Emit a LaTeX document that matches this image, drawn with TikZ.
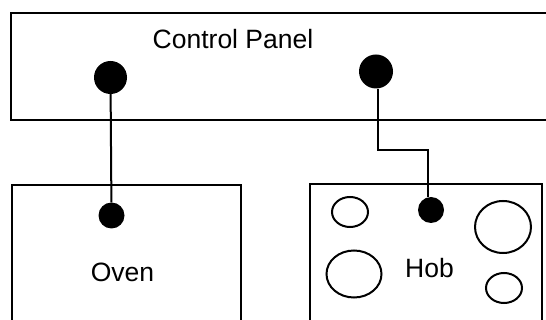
\documentclass[tikz,border=0pt]{standalone}
\usepackage{fontspec}
\setmainfont{Liberation Sans}
\usetikzlibrary{shapes.geometric}
\begin{document}
\begin{tikzpicture}[x=1pt,y=-1pt,
  box/.style={line width=2.1pt},
  wire/.style={line width=2pt},
  dot/.style={circle,fill=black,draw=none,inner sep=0pt,minimum size=#1},
  ring/.style={ellipse,draw=black,line width=2pt,inner sep=0pt},
  lbl/.style={font=\fontsize{26.5}{32}\selectfont,inner sep=0pt,anchor=base}]
\useasboundingbox (0,0) rectangle (546,320);
% boxes
\draw[box] (548,13) -- (11,13) -- (11,120) -- (548,120);
\draw[box] (12,322) -- (12,185) -- (241,185) -- (241,322);
\draw[box] (310,322) -- (310,184) -- (542,184) -- (542,322);
% labels
\node[lbl] (cp) at (233,48.5) {Control Panel};
\node[lbl] (oven) at (122.5,282) {Oven};
\node[lbl] (hob) at (429.5,278) {Hob};
% dots
\node[dot=33pt] (pd1) at (110.5,77.5) {};
\node[dot=34pt] (pd2) at (376,71.5) {};
\node[dot=26pt] (od) at (111.5,215.5) {};
\node[dot=26pt] (hd) at (431,210) {};
% hob rings
\node[ring,minimum width=36pt,minimum height=30pt] (r1) at (350,212) {};
\node[ring,minimum width=56pt,minimum height=52pt] (r2) at (503,227) {};
\node[ring,minimum width=55pt,minimum height=47pt] (r3) at (354,274) {};
\node[ring,minimum width=36pt,minimum height=30pt] (r4) at (504,288) {};
% wires
\coordinate (jog) at (428,150);
\draw[wire] (pd1) -- (od);
\draw[wire] ([xshift=2pt]pd2.south) |- (jog) -- (jog |- hd.north);
\end{tikzpicture}
\end{document}
